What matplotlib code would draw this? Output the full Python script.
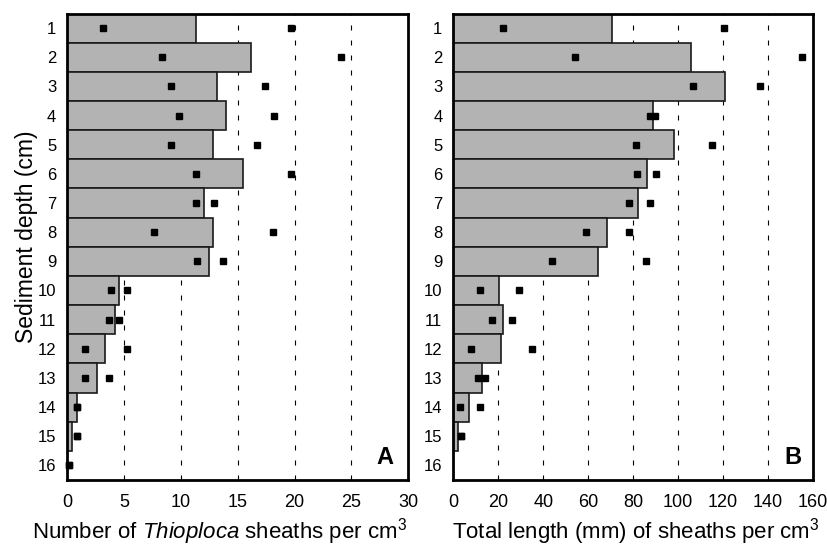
import matplotlib
matplotlib.use("Agg")
import matplotlib.pyplot as plt
import numpy as np

plt.rcParams['font.family'] = ['Liberation Sans', 'DejaVu Sans']
plt.rcParams['mathtext.fontset'] = 'custom'
plt.rcParams['mathtext.rm'] = 'Liberation Sans'
plt.rcParams['mathtext.it'] = 'Liberation Sans:italic'

# depth layers (cm)
depth = list(range(1, 17))

# panel A: number of sheaths per cm3 (mean bar + two replicate points)
sheaths_mean = [11.3, 16.2, 13.2, 14.0, 12.8, 15.5, 12.0, 12.8, 12.5,
                4.5, 4.2, 3.3, 2.6, 0.8, 0.4, 0.0]
sheaths_rep1 = [3.1, 8.3, 9.1, 9.8, 9.1, 11.3, 11.3, 7.6, 11.4,
                3.8, 3.7, 1.5, 1.5, 0.8, 0.8, 0.1]
sheaths_rep2 = [19.7, 24.1, 17.4, 18.2, 16.7, 19.7, 12.9, 18.1, 13.7,
                5.2, 4.5, 5.2, 3.7, 0.8, 0.8, 0.1]

# panel B: total sheath length (mm) per cm3
length_mean = [70.7, 105.6, 120.8, 89.0, 98.2, 86.1, 82.2, 68.2, 64.3,
               20.4, 21.9, 21.3, 12.9, 7.1, 1.8, 0.0]
length_rep1 = [22.1, 54.1, 106.5, 87.4, 81.2, 81.6, 78.1, 59.0, 43.9,
               11.7, 17.2, 7.9, 10.8, 3.0, 3.4, np.nan]
length_rep2 = [120.3, 155.0, 136.3, 89.9, 115.0, 90.1, 87.4, 78.1, 85.6,
               29.2, 26.1, 35.0, 14.1, 11.7, 3.4, np.nan]

fig = plt.figure(figsize=(8.28, 5.47), dpi=100)
axA = fig.add_axes([0.0815, 0.1225, 0.4113, 0.8528])
axB = fig.add_axes([0.5477, 0.1225, 0.4342, 0.8528])

panels = [
    (axA, sheaths_mean, sheaths_rep1, sheaths_rep2, 30, 5,
     r"Number of $\mathit{Thioploca}$ sheaths per cm$^{3}$", 0.0386, "A", 0.956),
    (axB, length_mean, length_rep1, length_rep2, 160, 20,
     r"Total length (mm) of sheaths per cm$^{3}$", 0.5459, "B", 0.967),
]

for ax, means, r1, r2, xmax, step, xlabel, xl, letter, lx in panels:
    for g in range(step, xmax, step):
        ax.axvline(g, color='black', lw=0.8, linestyle=(0, (4.5, 9)), zorder=1)
    ax.barh(depth, means, height=1.0, color='#b3b3b3', edgecolor='#1a1a1a',
            linewidth=1.2, zorder=2)
    ax.plot(r1, depth, 's', color='black', ms=4.3, zorder=3, clip_on=False)
    ax.plot(r2, depth, 's', color='black', ms=4.3, zorder=3, clip_on=False)
    ax.set_xlim(0, xmax)
    ax.set_ylim(16.5, 0.5)
    ax.set_xticks(range(0, xmax + 1, step))
    ax.set_yticks(depth)
    ax.tick_params(axis='x', length=0, labelsize=13, pad=10)
    ax.tick_params(axis='y', length=0, labelsize=12, pad=8)
    for s in ax.spines.values():
        s.set_linewidth(2)
    fig.text(xl, 0.016, xlabel, fontsize=16, ha='left', va='baseline')
    ax.text(lx, 0.024, letter, transform=ax.transAxes, ha='right', va='bottom',
            fontsize=17, fontweight='bold', zorder=5)

fig.text(0.040, 0.5677, "Sediment depth (cm)", fontsize=16.5, rotation=90,
         rotation_mode='anchor', ha='center', va='baseline')

fig.savefig("out.png", dpi=100)
